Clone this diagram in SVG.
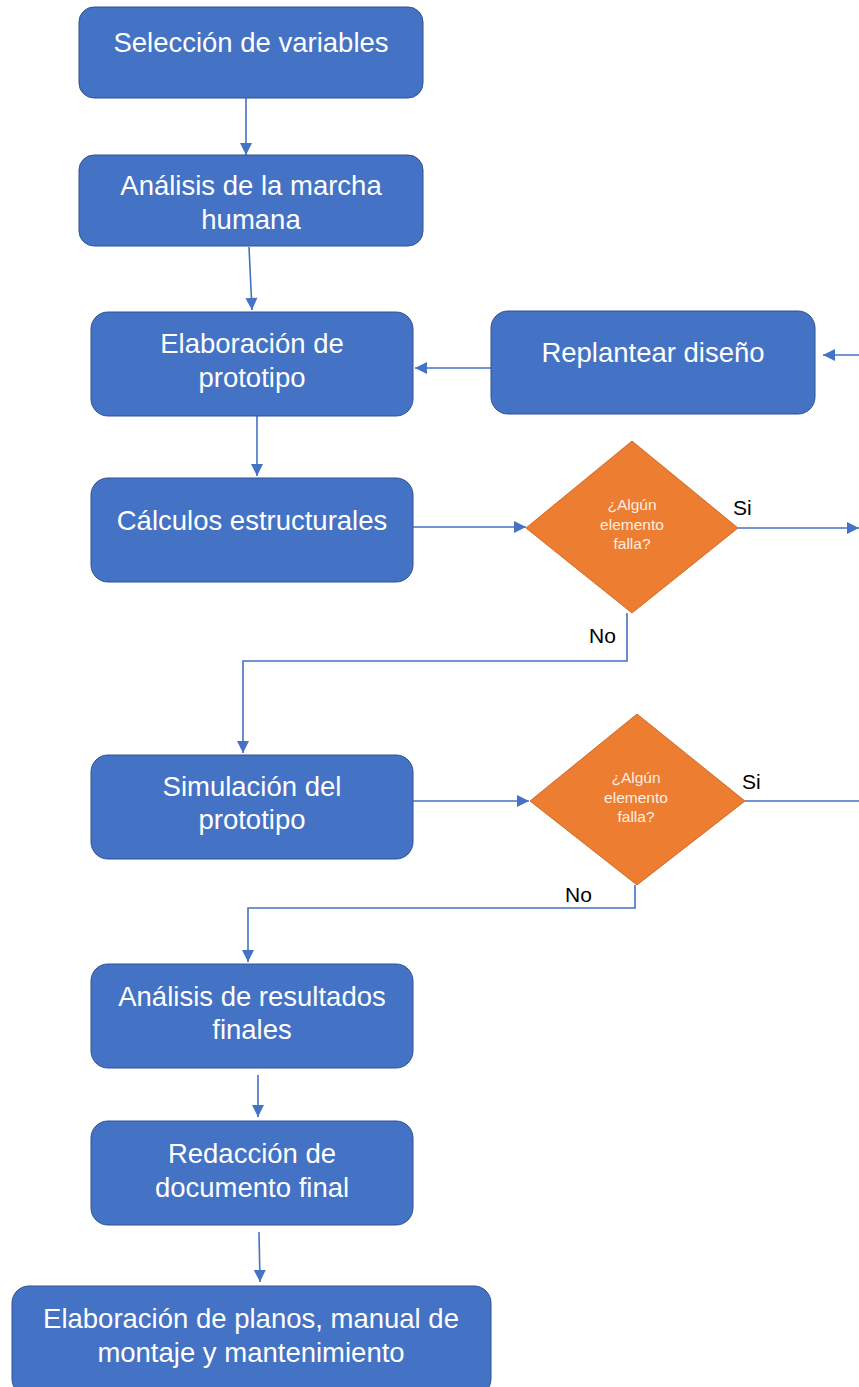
<svg xmlns="http://www.w3.org/2000/svg" width="859" height="1387" viewBox="0 0 859 1387">
<style>
.box{fill:#4472C4;stroke:#2F528F;stroke-width:1}
.dia{fill:#ED7D31;stroke:#C55A11;stroke-width:0.8}
.t{font-family:"Liberation Sans",Arial,sans-serif;font-size:27.5px;fill:#FFFFFF;text-anchor:middle}
.dt{font-family:"Liberation Sans",Arial,sans-serif;font-size:15.5px;fill:#FDEDE2;text-anchor:middle}
.lb{font-family:"Liberation Sans",Arial,sans-serif;font-size:21px;fill:#000000}
.c{fill:none;stroke:#4472C4;stroke-width:1.6}
</style>
<defs>
<marker id="ah" markerUnits="userSpaceOnUse" markerWidth="14" markerHeight="14" viewBox="0 0 14 14" refX="13" refY="7" orient="auto">
<path d="M1,1 L13,7 L1,13 Z" fill="#4472C4"/>
</marker>
</defs>
<rect width="859" height="1387" fill="#FFFFFF"/>
<g id="connectors">
<line class="c" x1="246" y1="98" x2="246" y2="155" marker-end="url(#ah)"/>
<line class="c" x1="249" y1="247" x2="252" y2="310" marker-end="url(#ah)"/>
<line class="c" x1="257" y1="416" x2="257" y2="476" marker-end="url(#ah)"/>
<line class="c" x1="491" y1="368" x2="415" y2="368" marker-end="url(#ah)"/>
<line class="c" x1="859" y1="355" x2="823" y2="355" marker-end="url(#ah)"/>
<line class="c" x1="413" y1="527" x2="526" y2="527" marker-end="url(#ah)"/>
<line class="c" x1="738" y1="528" x2="859" y2="528" marker-end="url(#ah)"/>
<polyline class="c" points="627,613 627,661 243,661 243,753" marker-end="url(#ah)"/>
<line class="c" x1="413" y1="801" x2="529" y2="801" marker-end="url(#ah)"/>
<line class="c" x1="745" y1="801" x2="859" y2="801"/>
<polyline class="c" points="635,885 635,908 248,908 248,962" marker-end="url(#ah)"/>
<line class="c" x1="258" y1="1075" x2="258" y2="1117" marker-end="url(#ah)"/>
<line class="c" x1="259" y1="1232" x2="260" y2="1282" marker-end="url(#ah)"/>
</g>
<g id="n1"><rect class="box" x="79" y="7" width="344" height="91" rx="15"/><text class="t" x="251" y="52">Selección de variables</text></g>
<g id="n2"><rect class="box" x="79" y="155" width="344" height="91" rx="15"/><text class="t" x="251" y="195">Análisis de la marcha</text><text class="t" x="251" y="229">humana</text></g>
<g id="n3"><rect class="box" x="91" y="312" width="322" height="104" rx="17"/><text class="t" x="252" y="353">Elaboración de</text><text class="t" x="252" y="387">prototipo</text></g>
<g id="n_replantear"><rect class="box" x="491" y="311" width="324" height="103" rx="17"/><text class="t" x="653" y="362">Replantear diseño</text></g>
<g id="n4"><rect class="box" x="91" y="478" width="322" height="104" rx="17"/><text class="t" x="252" y="530">Cálculos estructurales</text></g>
<g id="d1"><polygon class="dia" points="632,441 738,528 632,613 526,528"/><text class="dt" x="632" y="510">¿Algún</text><text class="dt" x="632" y="530">elemento</text><text class="dt" x="632" y="549">falla?</text></g>
<g id="d1_labels"><text class="lb" x="733" y="515">Si</text><text class="lb" x="589" y="643">No</text></g>
<g id="n5"><rect class="box" x="91" y="755" width="322" height="104" rx="17"/><text class="t" x="252" y="796">Simulación del</text><text class="t" x="252" y="829">prototipo</text></g>
<g id="d2"><polygon class="dia" points="637,714 745,801 637,885 530,801"/><text class="dt" x="636" y="783">¿Algún</text><text class="dt" x="636" y="803">elemento</text><text class="dt" x="636" y="822">falla?</text></g>
<g id="d2_labels"><text class="lb" x="742" y="789">Si</text><text class="lb" x="565" y="902">No</text></g>
<g id="n6"><rect class="box" x="91" y="964" width="322" height="104" rx="17"/><text class="t" x="252" y="1006">Análisis de resultados</text><text class="t" x="252" y="1039">finales</text></g>
<g id="n7"><rect class="box" x="91" y="1121" width="322" height="104" rx="17"/><text class="t" x="252" y="1163">Redacción de</text><text class="t" x="252" y="1197">documento final</text></g>
<g id="n8"><rect class="box" x="12" y="1286" width="479" height="110" rx="17"/><text class="t" x="251" y="1328">Elaboración de planos, manual de</text><text class="t" x="251" y="1362">montaje y mantenimiento</text></g>
</svg>
